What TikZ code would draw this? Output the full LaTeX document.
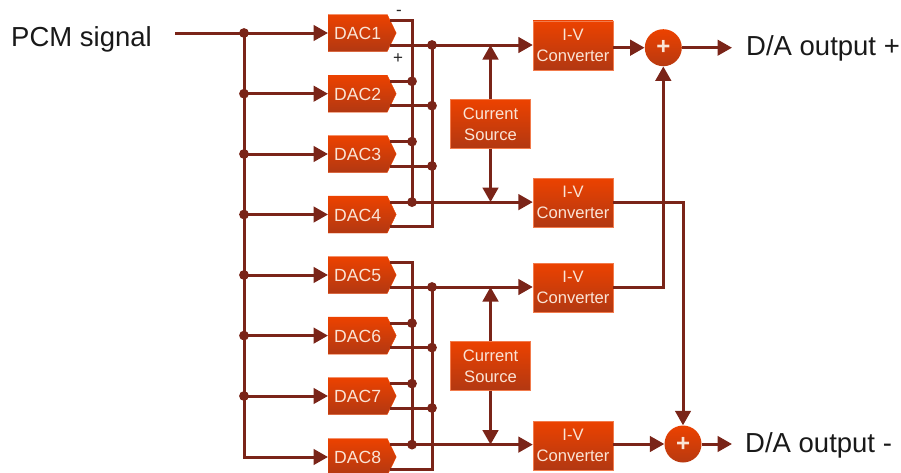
\documentclass[tikz,border=0pt]{standalone}
\usepackage{fontspec}
\setmainfont{Liberation Sans}
\usetikzlibrary{calc, shapes.symbols, arrows.meta}
\definecolor{wirered}{RGB}{122,36,24}
\definecolor{boxtop}{RGB}{236,66,0}
\definecolor{boxbot}{RGB}{178,56,18}
\definecolor{boxtxt}{RGB}{250,228,214}
\tikzset{
	wire/.style={draw=wirered, line width=3pt},
	sig/.style={wire, -{Triangle[length=14.5pt,width=15.5pt]}},
	dot/.style={circle, fill=wirered, inner sep=0pt, minimum size=9.8pt},
	dacbox/.style={signal, signal to=east, signal pointer angle=128, anchor=west, top color=boxtop, bottom color=boxbot, draw=boxtop, line width=0.4pt, text=boxtxt, font=\fontsize{17.6}{20}\selectfont, inner xsep=5pt, inner ysep=0pt, minimum height=37pt, minimum width=68pt, text height=13pt, text depth=0pt},
	ivbox/.style={rectangle, top color=boxtop, bottom color=boxbot, draw=boxtop!70!white, line width=0.4pt, text=boxtxt, font=\fontsize{16.6}{21}\selectfont, align=center, inner sep=0pt, minimum width=80pt, minimum height=49pt},
	sumnode/.style={circle, top color=boxtop, bottom color=boxbot!90!boxtop, text=boxtxt, font=\fontsize{24}{24}\bfseries\selectfont, inner sep=0pt, minimum size=37pt},
	biglabel/.style={anchor=west, inner sep=0pt, text=black!90, font=\fontsize{27.5}{30}\selectfont},
	polarity/.style={inner sep=0pt, text=black!85, font=\fontsize{17}{20}\selectfont}
}
\newcommand\dacblock[2]{\node[dacbox] (dac#1) at (328,#2) {DAC#1};
	\coordinate (dac#1u) at (390,#2-12.4);
	\coordinate (dac#1l) at (390,#2+12);
	\coordinate (in#1) at (244,#2);
	\coordinate (up#1) at (412,#2-12.4);
	\coordinate (lo#1) at (432,#2+12);}

\begin{document}
\begin{tikzpicture}[x=1pt,y=-1pt]
	\path[use as bounding box, clip] (0,0) rectangle (901,472);
	\foreach \n/\yy in {1/33,2/93.7,3/154,4/214.5,5/275,6/335.6,7/396,8/457}
		{\dacblock{\n}{\yy}}
	\node[ivbox] (iv1) at (573,45.3) {\raisebox{1pt}{I-V}\\\raisebox{1pt}{Converter}};
	\node[ivbox] (iv2) at (573,202.5) {\raisebox{1pt}{I-V}\\\raisebox{1pt}{Converter}};
	\node[ivbox] (iv3) at (573,287.5) {\raisebox{1pt}{I-V}\\\raisebox{1pt}{Converter}};
	\node[ivbox] (iv4) at (573,445.5) {\raisebox{1pt}{I-V}\\\raisebox{1pt}{Converter}};
	\node[ivbox] (cs1) at (490.5,124) {Current\\Source};
	\node[ivbox] (cs2) at (490.5,366) {Current\\Source};
	\node[sumnode] (sum1) at (663.3,47.7) {+};
	\node[sumnode] (sum2) at (683,444) {+};
	\node[biglabel] (pcm) at (11,39.5) {PCM signal};
	\node[biglabel] (outp) at (746,48.5) {D/A output +};
	\node[biglabel] (outn) at (745,445.5) {D/A output -};
	\node[polarity] (minus) at (399,13) {-};
	\node[polarity] (plus) at (398,58.5) {+};
	\coordinate (src) at (175,33);
	\coordinate (endp) at (732,47.7);
	\coordinate (endn) at (732,444);
	% input bus
	\draw[sig] (src) -- (dac1.west);
	\draw[sig] (in1) -- (in1 |- dac8.west) -- (dac8.west);
	\foreach \n in {2,...,7}
		{\draw[sig] (in\n) -- (dac\n.west);}
	% summing buses
	\foreach \n in {2,3,6,7}
		{\draw[wire] (dac\n u) -- (up\n);
		\draw[wire] (dac\n l) -- (lo\n);}
	\draw[wire] (dac1u) -| (up4);
	\draw[wire] (lo1) -- (lo4) -- (dac4l);
	\draw[wire] (dac5u) -| (up8);
	\draw[wire] (lo5) -- (lo8) -- (dac8l);
	% outputs
	\draw[sig] (dac1l) -- (iv1.west |- dac1l);
	\draw[sig] (dac4u) -- (iv2.west |- dac4u);
	\draw[sig] (dac5l) -- (iv3.west |- dac5l);
	\draw[sig] (dac8u) -- (iv4.west |- dac8u);
	\draw[sig] (cs1.north) -- (cs1.north |- dac1l);
	\draw[sig] (cs1.south) -- (cs1.south |- dac4u);
	\draw[sig] (cs2.north) -- (cs2.north |- dac5l);
	\draw[sig] (cs2.south) -- (cs2.south |- dac8u);
	\draw[sig] (iv1.east |- sum1.west) -- (sum1.west);
	\draw[sig] (sum1.east) -- (endp);
	\draw[sig] (iv3.east) -| (sum1.south);
	\draw[sig] (iv2.east) -| (sum2.north);
	\draw[sig] (iv4.east |- sum2.west) -- (sum2.west);
	\draw[sig] (sum2.east) -- (endn);
	% junction dots
	\foreach \n in {1,...,7}
		{\node[dot] (jin\n) at (in\n) {};}
	\foreach \n in {2,3,4,6,7,8}
		{\node[dot] (jup\n) at (up\n) {};}
	\foreach \n in {1,2,3,5,6,7}
		{\node[dot] (jlo\n) at (lo\n) {};}
\end{tikzpicture}
\end{document}
